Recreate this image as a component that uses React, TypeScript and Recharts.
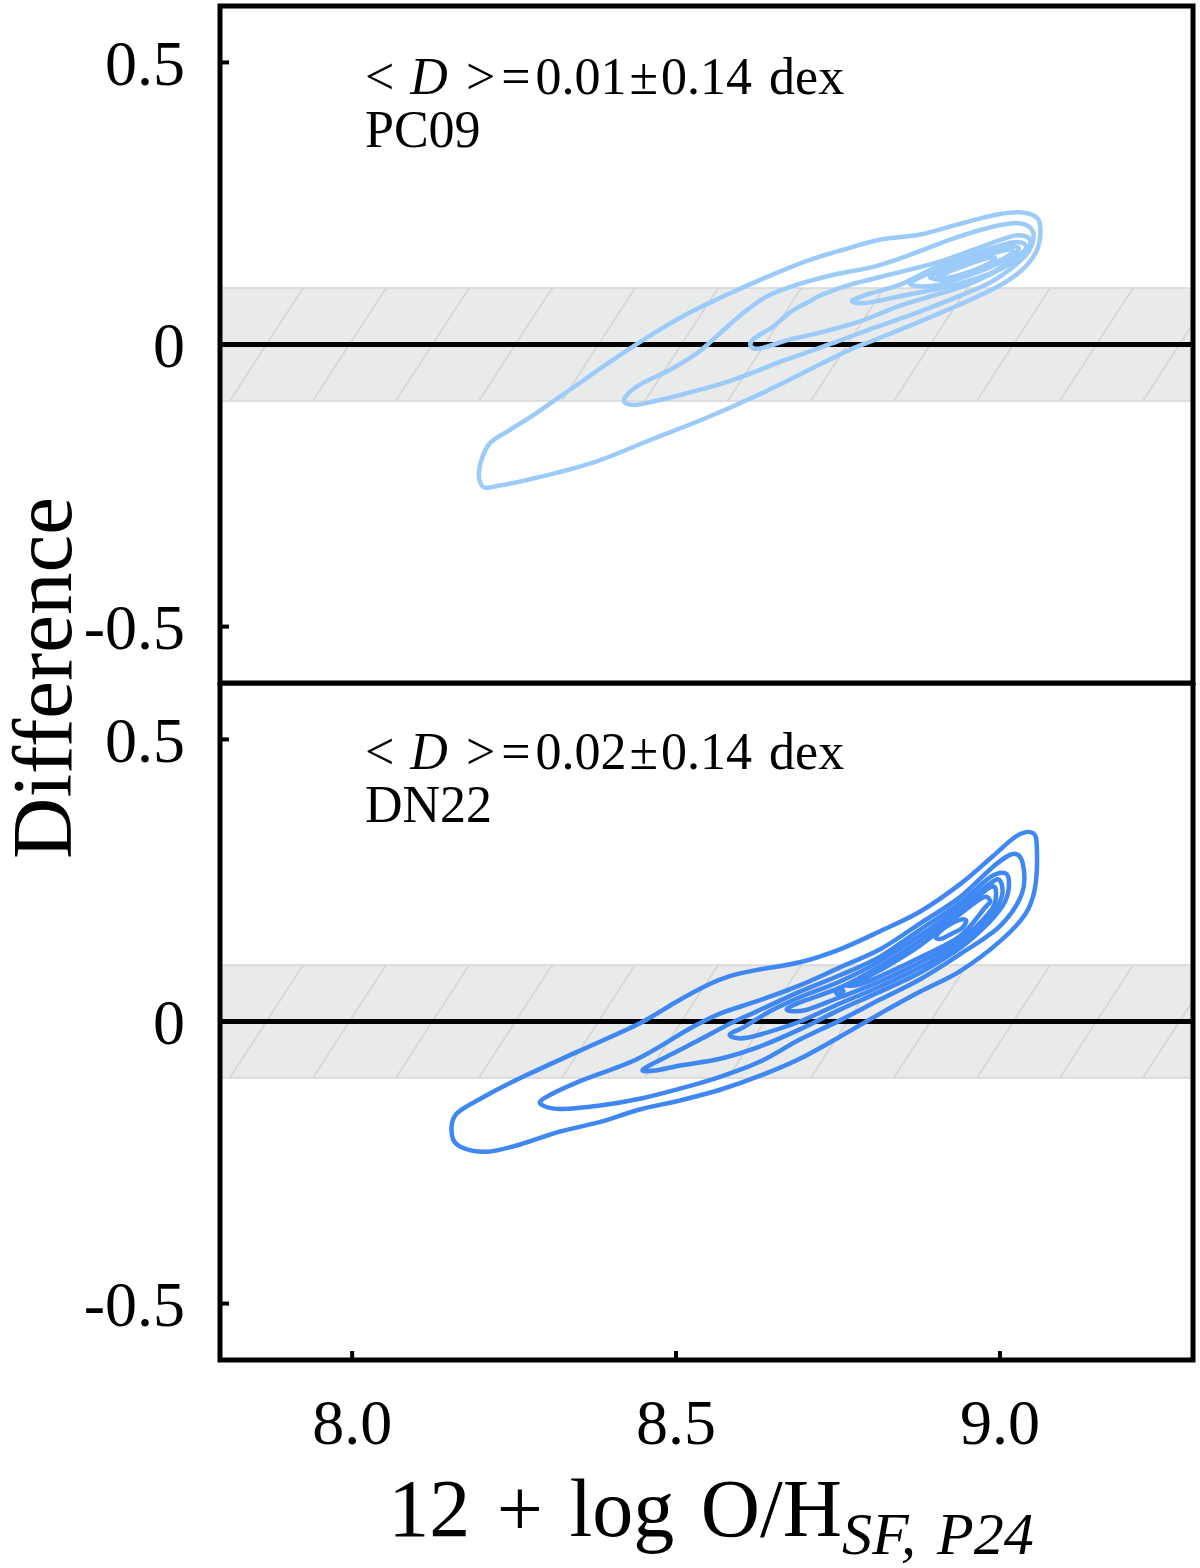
import { ScatterChart, Scatter, XAxis, YAxis, ReferenceArea, ReferenceLine } from "recharts";

const FONT = "'Liberation Serif', 'DejaVu Serif', serif";

const X_DOMAIN = [7.796, 9.298];
const Y_DOMAIN = [-0.6, 0.6];
const X_TICKS = [8.0, 8.5, 9.0];
const Y_TICKS = [-0.5, 0, 0.5];
const BAND = [-0.1, 0.1];

// PC09 density contours, outer -> inner, as [12+log O/H, difference]
const pc09Level1 = [
  [8.202, -0.252], [8.196, -0.222], [8.211, -0.177], [8.244, -0.151], [8.285, -0.121],
  [8.344, -0.074], [8.403, -0.027], [8.463, 0.018], [8.522, 0.057], [8.58, 0.089],
  [8.639, 0.119], [8.699, 0.147], [8.758, 0.168], [8.816, 0.186], [8.877, 0.195],
  [8.935, 0.213], [8.994, 0.23], [9.035, 0.234], [9.059, 0.222], [9.062, 0.191],
  [9.054, 0.16], [9.031, 0.129], [8.994, 0.101], [8.938, 0.071], [8.877, 0.041],
  [8.815, 0.012], [8.769, -0.009], [8.728, -0.032], [8.639, -0.083], [8.551, -0.128],
  [8.463, -0.168], [8.373, -0.209], [8.285, -0.236], [8.228, -0.25],
];
const pc09Level2 = [
  [8.421, -0.094], [8.444, -0.071], [8.492, -0.044], [8.534, -0.014], [8.569, 0.021],
  [8.605, 0.057], [8.64, 0.085], [8.687, 0.106], [8.745, 0.124], [8.806, 0.138],
  [8.864, 0.16], [8.923, 0.186], [8.983, 0.207], [9.029, 0.215], [9.051, 0.2],
  [9.046, 0.168], [9.023, 0.14], [8.985, 0.11], [8.931, 0.083], [8.869, 0.055],
  [8.799, 0.027], [8.758, 0.009], [8.67, -0.027], [8.58, -0.066], [8.498, -0.092],
  [8.444, -0.106], [8.424, -0.105],
];
const pc09Level3 = [
  [8.616, -0.004], [8.619, 0.009], [8.65, 0.032], [8.676, 0.057], [8.702, 0.074],
  [8.727, 0.089], [8.769, 0.106], [8.83, 0.124], [8.907, 0.147], [8.985, 0.179],
  [9.023, 0.193], [9.043, 0.19], [9.046, 0.176], [9.031, 0.154], [9.0, 0.133],
  [8.954, 0.108], [8.907, 0.09], [8.846, 0.069], [8.784, 0.041], [8.722, 0.021],
  [8.676, 0.009], [8.63, -0.007],
];
const pc09Level4 = [
  [8.772, 0.078], [8.799, 0.09], [8.85, 0.108], [8.907, 0.14], [8.985, 0.17],
  [9.019, 0.181], [9.037, 0.179], [9.039, 0.168], [9.019, 0.151], [8.985, 0.126],
  [8.938, 0.108], [8.907, 0.099], [8.861, 0.089], [8.815, 0.078], [8.787, 0.073],
];
const pc09Level5 = [
  [8.861, 0.108], [8.877, 0.119], [8.907, 0.135], [8.954, 0.152], [8.992, 0.167],
  [9.019, 0.174], [9.029, 0.17], [9.019, 0.158], [8.985, 0.137], [8.938, 0.117],
  [8.907, 0.106], [8.877, 0.103],
];
const pc09Level6 = [
  [8.892, 0.119], [8.907, 0.129], [8.946, 0.145], [8.985, 0.16], [9.012, 0.168],
  [9.02, 0.165], [9.008, 0.154], [8.985, 0.142], [8.946, 0.126], [8.915, 0.115],
];
const pc09Level7 = [
  [8.904, 0.121], [8.92, 0.128], [8.946, 0.14], [8.977, 0.152], [8.992, 0.154],
  [8.985, 0.145], [8.954, 0.129], [8.923, 0.119],
];

// DN22 density contours, outer -> inner
const dn22Level1 = [
  [8.154, -0.201], [8.16, -0.165], [8.198, -0.137], [8.258, -0.101], [8.349, -0.053],
  [8.441, -0.005], [8.502, 0.036], [8.551, 0.066], [8.582, 0.08], [8.623, 0.091],
  [8.691, 0.105], [8.753, 0.128], [8.815, 0.16], [8.877, 0.195], [8.938, 0.243],
  [8.989, 0.293], [9.026, 0.329], [9.051, 0.334], [9.057, 0.307], [9.054, 0.236],
  [9.039, 0.19], [9.0, 0.142], [8.938, 0.089], [8.877, 0.053], [8.815, 0.014],
  [8.753, -0.027], [8.691, -0.066], [8.63, -0.096], [8.568, -0.121], [8.506, -0.14],
  [8.444, -0.156], [8.383, -0.178], [8.321, -0.195], [8.259, -0.218], [8.208, -0.231],
  [8.167, -0.222],
];
const dn22Level2 = [
  [8.292, -0.147], [8.298, -0.135], [8.349, -0.107], [8.441, -0.066], [8.522, -0.012],
  [8.568, 0.014], [8.625, 0.036], [8.691, 0.064], [8.753, 0.096], [8.815, 0.128],
  [8.877, 0.174], [8.938, 0.22], [8.989, 0.274], [9.02, 0.297], [9.035, 0.281],
  [9.034, 0.227], [9.0, 0.169], [8.938, 0.119], [8.877, 0.075], [8.815, 0.039],
  [8.753, 0.002], [8.691, -0.032], [8.63, -0.071], [8.568, -0.098], [8.506, -0.119],
  [8.444, -0.137], [8.383, -0.149], [8.321, -0.155],
];
const dn22Level3 = [
  [8.449, -0.085], [8.491, -0.059], [8.537, -0.032], [8.583, -0.004], [8.625, 0.018],
  [8.691, 0.053], [8.753, 0.082], [8.815, 0.115], [8.877, 0.163], [8.938, 0.21],
  [8.985, 0.256], [9.008, 0.263], [9.014, 0.245], [9.008, 0.213], [8.985, 0.178],
  [8.938, 0.13], [8.877, 0.087], [8.815, 0.053], [8.753, 0.021], [8.691, -0.014],
  [8.63, -0.044], [8.568, -0.066], [8.506, -0.078], [8.468, -0.087],
];
const dn22Level4 = [
  [8.583, -0.023], [8.606, -0.009], [8.645, 0.018], [8.691, 0.043], [8.753, 0.071],
  [8.815, 0.107], [8.877, 0.153], [8.938, 0.202], [8.985, 0.245], [9.0, 0.25],
  [9.003, 0.222], [8.985, 0.187], [8.938, 0.137], [8.877, 0.096], [8.815, 0.062],
  [8.753, 0.032], [8.691, 0.0], [8.63, -0.023], [8.599, -0.03],
];
const dn22Level5 = [
  [8.671, 0.021], [8.691, 0.034], [8.753, 0.06], [8.815, 0.098], [8.877, 0.144],
  [8.938, 0.195], [8.985, 0.238], [8.994, 0.226], [8.985, 0.195], [8.938, 0.144],
  [8.877, 0.105], [8.815, 0.071], [8.753, 0.043], [8.699, 0.02],
];
const dn22Level6 = [
  [8.764, 0.064], [8.784, 0.073], [8.815, 0.091], [8.877, 0.135], [8.938, 0.19],
  [8.974, 0.22], [8.985, 0.213], [8.977, 0.202], [8.938, 0.151], [8.877, 0.114],
  [8.815, 0.08], [8.784, 0.066],
];
const dn22Level7 = [
  [8.901, 0.149], [8.91, 0.162], [8.926, 0.174], [8.941, 0.181], [8.948, 0.178],
  [8.941, 0.165], [8.926, 0.156], [8.91, 0.147],
];
const dn22Spot = [
  [8.747, 0.052], [8.752, 0.057], [8.758, 0.055], [8.756, 0.05], [8.75, 0.048],
];

const PC09_LEVELS = [pc09Level1, pc09Level2, pc09Level3, pc09Level4, pc09Level5, pc09Level6, pc09Level7];
const DN22_LEVELS = [dn22Level1, dn22Level2, dn22Level3, dn22Level4, dn22Level5, dn22Level6, dn22Level7, dn22Spot];

const toPoints = (pairs: number[][]) => pairs.map(([x, y]) => ({ x, y }));
const noDot = () => <g />;

// closed Catmull-Rom curve in the d3 curve-factory shape, so the contour line passes through its points
function smoothClosed(context: any) {
  let pts: number[][] = [];
  return {
    areaStart() {},
    areaEnd() {},
    lineStart() {
      pts = [];
    },
    point(x: number, y: number) {
      pts.push([x, y]);
    },
    lineEnd() {
      const n = pts.length;
      if (!n) return;
      context.moveTo(pts[0][0], pts[0][1]);
      for (let i = 0; i < n; i++) {
        const p0 = pts[(i - 1 + n) % n];
        const p1 = pts[i];
        const p2 = pts[(i + 1) % n];
        const p3 = pts[(i + 2) % n];
        context.bezierCurveTo(
          p1[0] + (p2[0] - p0[0]) / 6,
          p1[1] + (p2[1] - p0[1]) / 6,
          p2[0] - (p3[0] - p1[0]) / 6,
          p2[1] - (p3[1] - p1[1]) / 6,
          p2[0],
          p2[1]
        );
      }
      context.closePath();
    },
  };
}

function HatchBand(props: any) {
  const { x, y, width, height, id } = props;
  return (
    <g>
      <defs>
        <pattern id={id} patternUnits="userSpaceOnUse" x={x} y={y} width={83} height={128}>
          <line x1={-83} y1={128} x2={0} y2={0} stroke="#d3d4d3" strokeWidth={1.5} />
          <line x1={0} y1={128} x2={83} y2={0} stroke="#d3d4d3" strokeWidth={1.5} />
          <line x1={83} y1={128} x2={166} y2={0} stroke="#d3d4d3" strokeWidth={1.5} />
        </pattern>
      </defs>
      <rect x={x} y={y} width={width} height={height} fill="#e9eaea" />
      <rect x={x} y={y} width={width} height={height} fill={`url(#${id})`} />
      <line x1={x} x2={x + width} y1={y} y2={y} stroke="#d6d6d6" strokeWidth={1.5} />
      <line x1={x} x2={x + width} y1={y + height} y2={y + height} stroke="#d6d6d6" strokeWidth={1.5} />
    </g>
  );
}

function Panel({
  levels,
  color,
  hatchId,
  bottom,
}: {
  levels: number[][][];
  color: string;
  hatchId: string;
  bottom: boolean;
}) {
  return (
    <ScatterChart
      width={1200}
      height={bottom ? 885 : 690}
      margin={bottom ? { top: 0, right: 7, bottom: 0, left: 0 } : { top: 6, right: 7, bottom: 7, left: 0 }}
    >
      <XAxis
        type="number"
        dataKey="x"
        domain={X_DOMAIN}
        ticks={X_TICKS}
        interval={0}
        hide={!bottom}
        height={208}
        axisLine={false}
        tickSize={-9}
        tickMargin={48}
        tickLine={{ stroke: "#000", strokeWidth: 4 }}
        tick={{ fontSize: 64, fill: "#000", fontFamily: FONT }}
        tickFormatter={(v: number) => v.toFixed(1)}
        allowDataOverflow
      />
      <YAxis
        type="number"
        dataKey="y"
        domain={Y_DOMAIN}
        ticks={Y_TICKS}
        interval={0}
        width={220}
        axisLine={false}
        tickSize={-9}
        tickMargin={44}
        tickLine={{ stroke: "#000", strokeWidth: 4 }}
        tick={{ fontSize: 64, fill: "#000", fontFamily: FONT }}
        tickFormatter={(v: number) => (v === 0 ? "0" : v.toFixed(1))}
        allowDataOverflow
      />
      <ReferenceArea
        y1={BAND[0]}
        y2={BAND[1]}
        x1={X_DOMAIN[0]}
        x2={X_DOMAIN[1]}
        shape={(p: any) => <HatchBand {...p} id={hatchId} />}
      />
      <ReferenceLine y={0} stroke="#000" strokeWidth={5} />
      {levels.map((level, i) => (
        <Scatter
          key={i}
          data={toPoints(level)}
          fill={color}
          line={{ stroke: color, strokeWidth: 4.5, strokeLinejoin: "round" }}
          lineType="joint"
          lineJointType={smoothClosed}
          shape={noDot}
          legendType="none"
          isAnimationActive={false}
        />
      ))}
      <ReferenceArea
        x1={X_DOMAIN[0]}
        x2={X_DOMAIN[1]}
        y1={Y_DOMAIN[0]}
        y2={Y_DOMAIN[1]}
        fill="none"
        stroke="#000"
        strokeWidth={5}
        ifOverflow="visible"
      />
    </ScatterChart>
  );
}

function Stat({ x, y, value, tag }: { x: number; y: number; value: string; tag: string }) {
  return (
    <g fontFamily={FONT} fontSize={52} fill="#000">
      <text x={x} y={y}>
        <tspan>&lt;</tspan>
        <tspan dx={16} fontStyle="italic">D</tspan>
        <tspan dx={18}>&gt;</tspan>
        <tspan dx={6}>=</tspan>
        <tspan dx={5}>{value}</tspan>
        <tspan dx={3}>±</tspan>
        <tspan dx={3}>0.14</tspan>
        <tspan dx={17}>dex</tspan>
      </text>
      <text x={x} y={y + 53}>{tag}</text>
    </g>
  );
}

export default function App() {
  return (
    <div style={{ position: "absolute", left: 0, top: 0, width: 1200, height: 1568, background: "#fff" }}>
      <div style={{ position: "absolute", left: 0, top: 0 }}>
        <Panel levels={PC09_LEVELS} color="#9ccbf9" hatchId="hatchTop" bottom={false} />
      </div>
      <div style={{ position: "absolute", left: 0, top: 683 }}>
        <Panel levels={DN22_LEVELS} color="#3f87f2" hatchId="hatchBottom" bottom />
      </div>
      <svg
        width={1200}
        height={1568}
        style={{ position: "absolute", left: 0, top: 0, pointerEvents: "none" }}
      >
        <Stat x={365} y={94} value="0.01" tag="PC09" />
        <Stat x={365} y={769} value="0.02" tag="DN22" />
        <text
          transform="translate(71,678) rotate(-90)"
          textAnchor="middle"
          fontFamily={FONT}
          fontSize={85}
          fill="#000"
        >
          Difference
        </text>
        <text x={711} y={1536} textAnchor="middle" fontFamily={FONT} fontSize={82} fill="#000" style={{ wordSpacing: 6 }}>
          <tspan>12 + log O/H</tspan>
          <tspan fontStyle="italic" fontSize={60} dy={18}>SF, P24</tspan>
        </text>
      </svg>
    </div>
  );
}
